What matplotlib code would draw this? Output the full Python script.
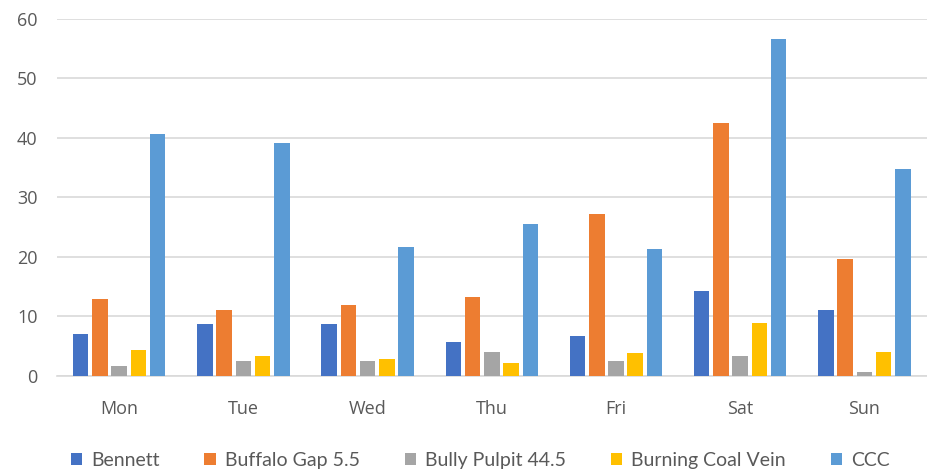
import numpy as np
import matplotlib
matplotlib.use('agg')
import matplotlib.pyplot as plt

days = ['Mon', 'Tue', 'Wed', 'Thu', 'Fri', 'Sat', 'Sun']
bennett = [7.1, 8.7, 8.7, 5.7, 6.8, 14.3, 11.1]
buffalo_gap = [13.0, 11.1, 11.9, 13.2, 27.3, 42.6, 19.7]
bully_pulpit = [1.7, 2.5, 2.5, 4.1, 2.5, 3.3, 0.6]
burning_coal = [4.4, 3.3, 2.8, 2.2, 3.8, 8.9, 4.1]
ccc = [40.7, 39.1, 21.6, 25.6, 21.3, 56.6, 34.8]

names = ['Bennett', 'Buffalo Gap 5.5', 'Bully Pulpit 44.5', 'Burning Coal Vein', 'CCC']
colors = ['#4472C4', '#ED7D31', '#A5A5A5', '#FFC000', '#5B9BD5']
series = [bennett, buffalo_gap, bully_pulpit, burning_coal, ccc]

fig = plt.figure(figsize=(9.27, 4.70), dpi=100)
ax = fig.add_axes([0.0615, 0.2, 0.938, 0.7596])

x = np.arange(len(days))
slot = 0.155
for i, (vals, c, n) in enumerate(zip(series, colors, names)):
    ax.bar(x + (i - 2) * slot, vals, width=0.125, color=c, label=n, zorder=3)

ax.set_xlim(-0.5, len(days) - 0.5)
ax.set_ylim(0, 60)
ax.set_yticks(range(0, 61, 10))
ax.set_xticks(x)
ax.set_xticklabels(days)
ax.yaxis.grid(True, color='#D9D9D9', linewidth=1.2, zorder=0)
for s in ['top', 'right', 'left']:
    ax.spines[s].set_visible(False)
ax.spines['bottom'].set_color('#D9D9D9')
ax.spines['bottom'].set_linewidth(1.2)
ax.tick_params(length=0, labelcolor='#595959', labelsize=13)
ax.tick_params(axis='y', pad=14)
ax.tick_params(axis='x', pad=17)
for lab in ax.get_xticklabels() + ax.get_yticklabels():
    lab.set_family('Open Sans')
    lab.set_fontweight('medium')

fig.legend(loc='center', bbox_to_anchor=(0.518, 0.02), ncol=5, frameon=False,
           prop={'family': 'Lato', 'size': 14}, labelcolor='#595959',
           handlelength=0.6, handleheight=0.6, handletextpad=0.45, columnspacing=2.3)

fig.savefig('out.png', dpi=100)
